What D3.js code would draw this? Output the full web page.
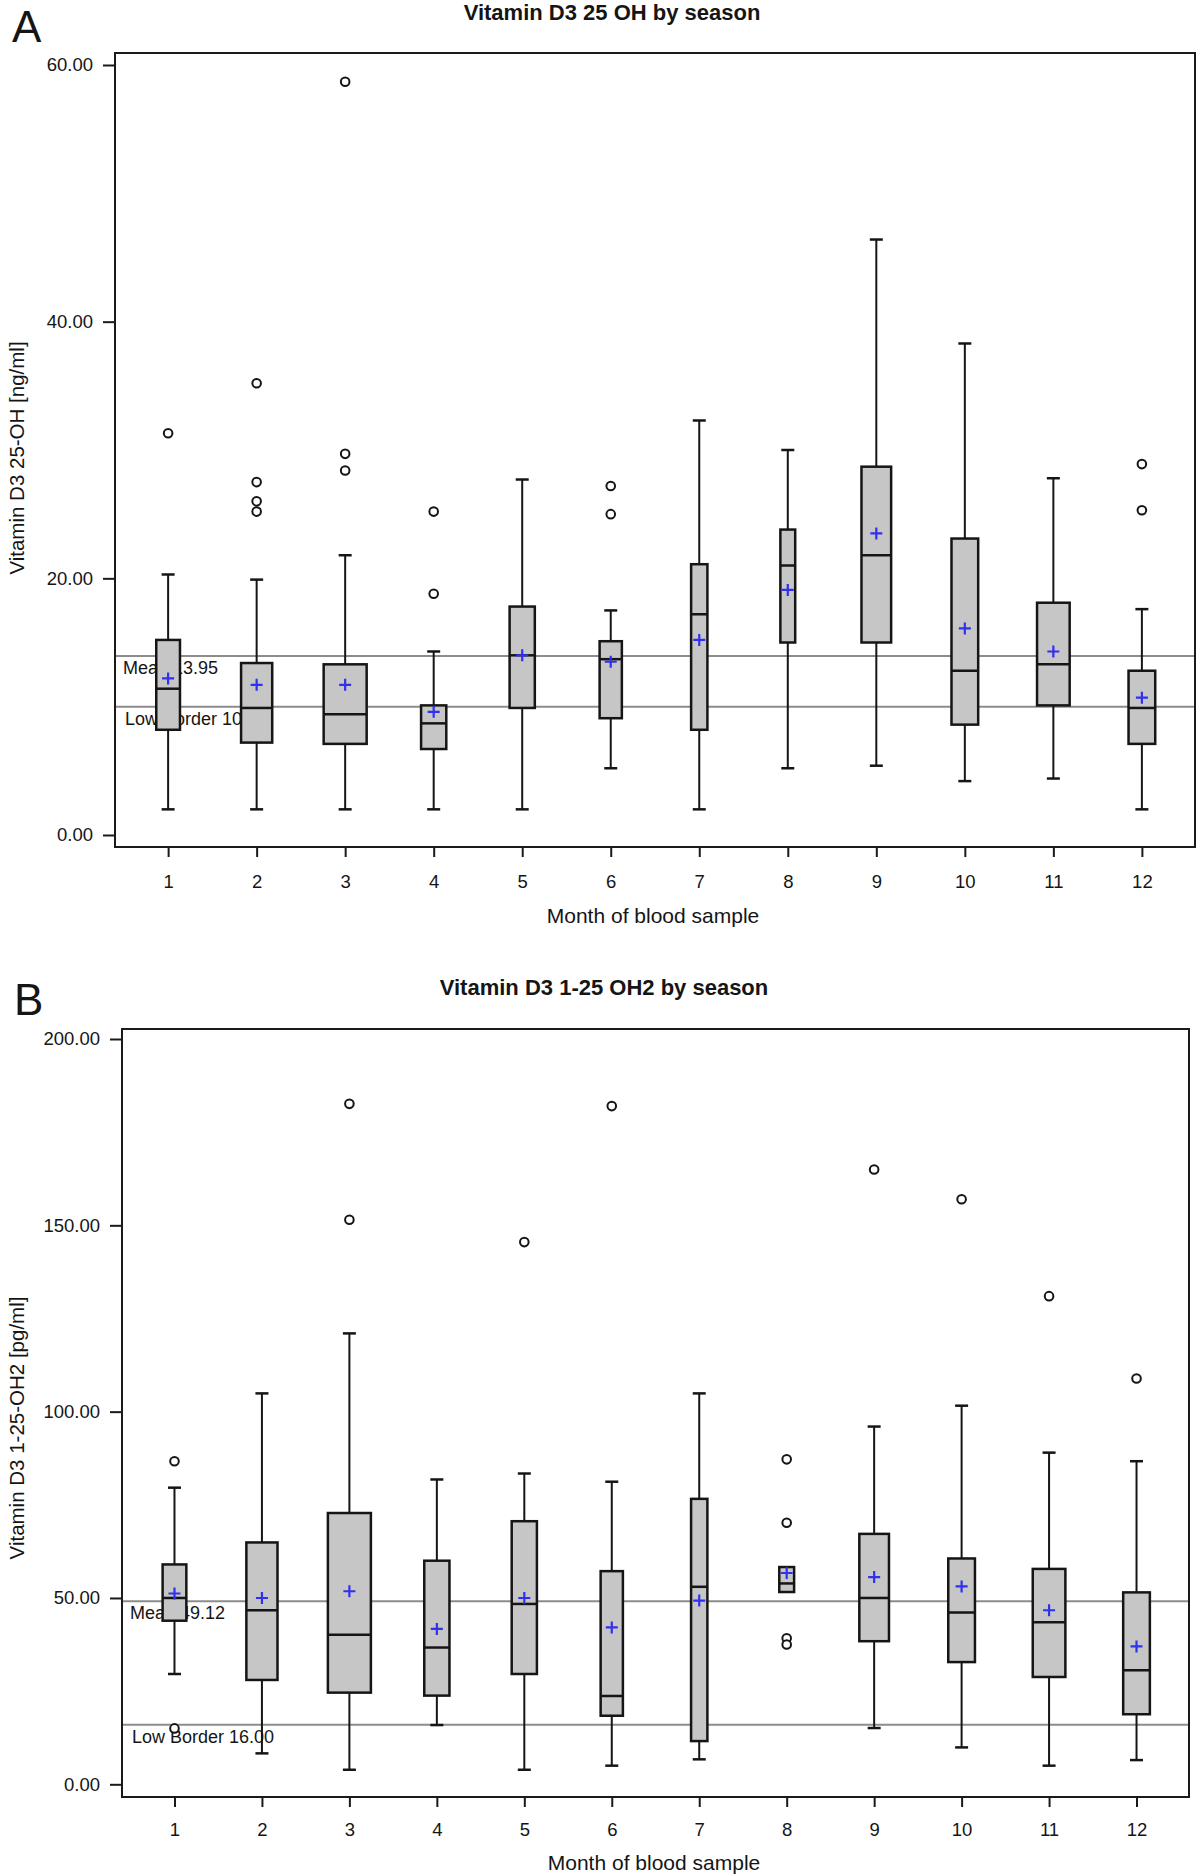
<!DOCTYPE html>
<html><head><meta charset="utf-8">
<script src="https://cdn.jsdelivr.net/npm/d3@7"></script>
<style>
body{margin:0;background:#fff}
svg{display:block}
text{font-family:"Liberation Sans",Arial,sans-serif;fill:#151515}
</style>
</head><body>
<svg id="chart" width="1200" height="1876"></svg>
<script>
// ---------- shared ----------
const months = ["1","2","3","4","5","6","7","8","9","10","11","12"];
const sampleSize = [16, 21, 29, 17, 17, 15, 11, 10, 20, 18, 22, 18]; // relative n (box width)

// ---------- Panel A : Vitamin D3 25 OH (ng/ml) ----------
const aTitle = "Vitamin D3 25 OH by season";
const aYLabel = "Vitamin D3 25-OH [ng/ml]";
const aYTicks = [0, 20, 40, 60];
const aWhiskerLow  = [2.0, 2.0, 2.0, 2.0, 2.0, 5.2, 2.0, 5.2, 5.4, 4.2, 4.4, 2.0];
const aQ1          = [8.2, 7.2, 7.1, 6.7, 9.9, 9.1, 8.2, 15.0, 15.0, 8.6, 10.1, 7.1];
const aMedian      = [11.4, 9.9, 9.4, 8.7, 14.0, 13.7, 17.2, 21.0, 21.8, 12.8, 13.3, 9.9];
const aQ3          = [15.2, 13.4, 13.3, 10.1, 17.8, 15.1, 21.1, 23.8, 28.7, 23.1, 18.1, 12.8];
const aWhiskerHigh = [20.3, 19.9, 21.8, 14.3, 27.7, 17.5, 32.3, 30.0, 46.4, 38.3, 27.8, 17.6];
const aMean        = [12.2, 11.7, 11.7, 9.6, 14.0, 13.5, 15.2, 19.1, 23.5, 16.1, 14.3, 10.7];
const aOutlierMonth = ["1","2","2","2","2","3","3","3","4","4","6","6","12","12"];
const aOutlierValue = [31.3, 35.2, 27.5, 26.0, 25.2, 58.7, 29.7, 28.4, 25.2, 18.8, 27.2, 25.0, 28.9, 25.3];
const aRefValues = [13.95, 10];
const aRefLabels = ["Mean 13.95", "Low Border 10"];

// ---------- Panel B : Vitamin D3 1-25 OH2 (pg/ml) ----------
const bTitle = "Vitamin D3 1-25 OH2 by season";
const bYLabel = "Vitamin D3 1-25-OH2 [pg/ml]";
const bYTicks = [0, 50, 100, 150, 200];
const bWhiskerLow  = [29.6, 8.3, 3.9, 15.9, 3.9, 5.0, 6.7, 51.6, 15.1, 9.9, 5.0, 6.5];
const bQ1          = [43.9, 28.0, 24.6, 23.8, 29.6, 18.4, 11.6, 51.6, 38.4, 32.8, 28.8, 18.8];
const bMedian      = [50.0, 46.7, 40.1, 36.7, 48.4, 23.7, 53.0, 53.9, 50.0, 46.1, 43.5, 30.6];
const bQ3          = [59.0, 64.9, 72.8, 60.0, 70.6, 57.2, 76.6, 58.3, 67.2, 60.6, 57.8, 51.5];
const bWhiskerHigh = [79.6, 104.9, 121.0, 81.8, 83.4, 81.2, 104.9, 58.3, 96.0, 101.6, 89.0, 86.7];
const bMean        = [51.2, 50.0, 51.8, 41.7, 50.0, 42.1, 49.3, 56.7, 55.6, 53.1, 46.7, 37.0];
const bOutlierMonth = ["1","1","3","3","5","6","8","8","8","8","9","10","11","12"];
const bOutlierValue = [86.7, 15.0, 182.6, 151.5, 145.5, 182.0, 87.2, 70.2, 39.2, 37.5, 165.0, 157.0, 131.0, 108.9];
const bRefValues = [49.12, 16];
const bRefLabels = ["Mean 49.12", "Low Border 16.00"];

const xLabel = "Month of blood sample";

// ---------- drawing ----------
const svg = d3.select("#chart");

function drawPanel(P, L) {
  const g = svg.append("g");
  const x = d3.scalePoint().domain(months).range([L.left, L.right]).padding(0.6);
  const y = d3.scaleLinear().domain([0, P.yTicks[P.yTicks.length - 1]]).range([L.yZero, L.yTopTick]);
  const bw = d3.scaleLinear().domain([0, d3.max(sampleSize)]).range([0, 43]);
  const capW = 13;

  // panel letter & title
  g.append("text").attr("x", L.letterX).attr("y", L.letterY)
    .attr("font-size", 44).text(P.letter);
  g.append("text").attr("x", L.titleX).attr("y", L.titleY)
    .attr("text-anchor", "middle").attr("font-weight", "bold")
    .attr("font-size", 22).text(P.title);

  // reference lines + labels
  P.refValues.forEach((v, i) => {
    g.append("line")
      .attr("x1", L.left).attr("x2", L.right)
      .attr("y1", y(v)).attr("y2", y(v))
      .attr("stroke", "#8c8c8c").attr("stroke-width", 2);
    g.append("text")
      .attr("x", L.left + (i === 0 ? 8 : 10))
      .attr("y", y(v) + 18)
      .attr("font-size", 18).text(P.refLabels[i]);
  });

  // axes
  const ya = d3.axisLeft(y).tickValues(P.yTicks).tickFormat(d3.format(".2f"))
    .tickSize(12).tickPadding(10);
  const gy = g.append("g").attr("transform", `translate(${L.left},0)`).call(ya);
  gy.select(".domain").remove();
  gy.selectAll("line").attr("stroke", "#1a1a1a").attr("stroke-width", 2);
  gy.selectAll("text").attr("font-size", 18.5).attr("font-family", "Liberation Sans, Arial, sans-serif").attr("fill", "#151515");

  const xa = d3.axisBottom(x).tickSize(10).tickPadding(L.xPad);
  const gx = g.append("g").attr("transform", `translate(0,${L.bottom})`).call(xa);
  gx.select(".domain").remove();
  gx.selectAll("line").attr("stroke", "#1a1a1a").attr("stroke-width", 2);
  gx.selectAll("text").attr("font-size", 18.5).attr("font-family", "Liberation Sans, Arial, sans-serif").attr("fill", "#151515");

  // axis titles
  g.append("text").attr("x", L.xTitleX).attr("y", L.xTitleY)
    .attr("text-anchor", "middle").attr("font-size", 21).text(xLabel);
  g.append("text").attr("transform", `translate(${L.yTitleX},${L.yTitleY}) rotate(-90)`)
    .attr("text-anchor", "middle").attr("font-size", 20.5).text(P.yLabel);

  // boxes
  months.forEach((m, i) => {
    const cx = x(m), w = bw(sampleSize[i]);
    const bg = g.append("g");
    if (P.wHigh[i] > P.q3[i]) {
      bg.append("line").attr("x1", cx).attr("x2", cx).attr("y1", y(P.q3[i])).attr("y2", y(P.wHigh[i]))
        .attr("stroke", "#151515").attr("stroke-width", 2);
      bg.append("line").attr("x1", cx - capW / 2).attr("x2", cx + capW / 2)
        .attr("y1", y(P.wHigh[i])).attr("y2", y(P.wHigh[i]))
        .attr("stroke", "#151515").attr("stroke-width", 2.5);
    }
    if (P.wLow[i] < P.q1[i]) {
      bg.append("line").attr("x1", cx).attr("x2", cx).attr("y1", y(P.q1[i])).attr("y2", y(P.wLow[i]))
        .attr("stroke", "#151515").attr("stroke-width", 2);
      bg.append("line").attr("x1", cx - capW / 2).attr("x2", cx + capW / 2)
        .attr("y1", y(P.wLow[i])).attr("y2", y(P.wLow[i]))
        .attr("stroke", "#151515").attr("stroke-width", 2.5);
    }
    bg.append("rect").attr("x", cx - w / 2).attr("y", y(P.q3[i]))
      .attr("width", w).attr("height", y(P.q1[i]) - y(P.q3[i]))
      .attr("fill", "#c6c6c6").attr("stroke", "#151515").attr("stroke-width", 2.5);
    bg.append("line").attr("x1", cx - w / 2).attr("x2", cx + w / 2)
      .attr("y1", y(P.median[i])).attr("y2", y(P.median[i]))
      .attr("stroke", "#151515").attr("stroke-width", 2.5);
    const my = y(P.mean[i]);
    bg.append("path").attr("d", `M${cx - 6},${my}H${cx + 6}M${cx},${my - 6}V${my + 6}`)
      .attr("stroke", "#3030f0").attr("stroke-width", 2.2).attr("fill", "none");
  });

  // outliers
  g.selectAll(null).data(P.outMonth.map((m, i) => [m, P.outValue[i]])).join("circle")
    .attr("cx", d => x(d[0])).attr("cy", d => y(d[1])).attr("r", 4.3)
    .attr("fill", "#fff").attr("stroke", "#151515").attr("stroke-width", 2);

  // frame
  g.append("rect").attr("x", L.left).attr("y", L.top)
    .attr("width", L.right - L.left).attr("height", L.bottom - L.top)
    .attr("fill", "none").attr("stroke", "#1a1a1a").attr("stroke-width", 2);
}

drawPanel(
  { letter: "A", title: aTitle, yLabel: aYLabel, yTicks: aYTicks,
    wLow: aWhiskerLow, q1: aQ1, median: aMedian, q3: aQ3, wHigh: aWhiskerHigh, mean: aMean,
    outMonth: aOutlierMonth, outValue: aOutlierValue, refValues: aRefValues, refLabels: aRefLabels },
  { left: 115, right: 1195, top: 53, bottom: 847, yZero: 835, yTopTick: 65,
    letterX: 12, letterY: 42, titleX: 612, titleY: 20, xPad: 18,
    xTitleX: 653, xTitleY: 923, yTitleX: 24, yTitleY: 458 }
);
drawPanel(
  { letter: "B", title: bTitle, yLabel: bYLabel, yTicks: bYTicks,
    wLow: bWhiskerLow, q1: bQ1, median: bMedian, q3: bQ3, wHigh: bWhiskerHigh, mean: bMean,
    outMonth: bOutlierMonth, outValue: bOutlierValue, refValues: bRefValues, refLabels: bRefLabels },
  { left: 122, right: 1189, top: 1029, bottom: 1797, yZero: 1784.3, yTopTick: 1039,
    letterX: 14, letterY: 1015, titleX: 604, titleY: 995, xPad: 16,
    xTitleX: 654, xTitleY: 1870, yTitleX: 24, yTitleY: 1428 }
);
</script>
</body></html>
